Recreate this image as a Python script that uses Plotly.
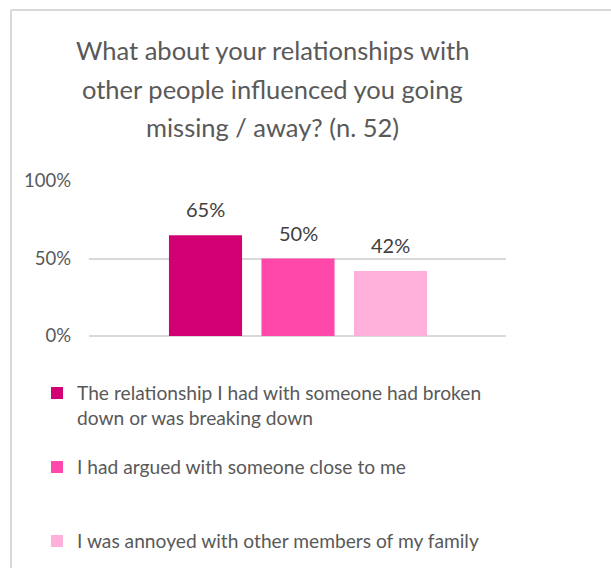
import plotly.graph_objects as go

# Survey responses (n = 52)
title_lines = [
    "What about your relationships with",
    "other people influenced you going",
    "missing / away? (n. 52)",
]
reasons = [
    "The relationship I had with someone had broken<br>down or was breaking down",
    "I had argued with someone close to me<br> ",
    "I was annoyed with other members of my family",
]
shares = [0.65, 0.50, 0.42]
colors = ["#D20072", "#FF48AA", "#FFB0DA"]
y_ticks = [0, 0.5, 1.0]
y_tick_labels = ["0%", "50%", "100%"]

W, H = 611, 568
L, R, T, B = 89, 506, 181, 336  # plot area in pixels
FONT = "Lato"
GREY = "#595959"


def px_x(px):
    return (px - L) / (R - L)


def px_y(py):
    return (B - py) / (B - T)


fig = go.Figure()
legend_names = ["legend", "legend2", "legend3"]
for i, (name, val, col) in enumerate(zip(reasons, shares, colors)):
    fig.add_trace(go.Bar(
        x=[i], y=[val], name=name, width=0.79,
        marker=dict(color=col, line=dict(width=0)),
        legend=legend_names[i],
        hoverinfo="skip",
    ))
    fig.add_annotation(
        x=i, y=val, xref="x", yref="y",
        text=f"{val:.0%}", showarrow=False,
        yanchor="bottom", yshift=12,
        font=dict(family=FONT, size=20, color="#404040"),
    )

# chart title, centred above the plot
for k, line in enumerate(title_lines):
    fig.add_annotation(
        x=px_x(272), y=px_y(50 + 38.5 * k),
        xref="paper", yref="paper", text=line, showarrow=False,
        xanchor="center", yanchor="middle",
        font=dict(family=FONT, size=25.5, color=GREY),
    )

# chart frame (top and left edges)
fig.add_shape(type="line", xref="paper", yref="paper",
              x0=px_x(11), x1=px_x(W + 5), y0=px_y(10), y1=px_y(10),
              line=dict(color="#D9D9D9", width=2))
fig.add_shape(type="line", xref="paper", yref="paper",
              x0=px_x(11), x1=px_x(11), y0=px_y(10), y1=px_y(H + 5),
              line=dict(color="#D9D9D9", width=2))

legend_common = dict(
    font=dict(family=FONT, size=19.2, color=GREY),
    bgcolor="rgba(0,0,0,0)", borderwidth=0, valign="top",
    xanchor="left", yanchor="top", itemwidth=30,
    itemclick=False, itemdoubleclick=False,
)
legend_tops = [374, 448, 522]
legend_left = 37
layout_legends = {}
for name, top in zip(legend_names, legend_tops):
    layout_legends[name] = dict(legend_common, x=px_x(legend_left), y=px_y(top))

unit = 92.5  # pixels per bar slot
fig.update_layout(
    width=W, height=H,
    margin=dict(l=L, r=W - R, t=T, b=H - B, autoexpand=False),
    paper_bgcolor="white", plot_bgcolor="white",
    showlegend=True,
    barmode="overlay",
    xaxis=dict(
        range=[1 - (298 - L) / unit, 1 + (R - 298) / unit],
        showgrid=False, zeroline=False, showticklabels=False, showline=False,
        fixedrange=True,
    ),
    yaxis=dict(
        range=[0, 1], tickvals=y_ticks, ticktext=y_tick_labels,
        showgrid=True, gridcolor="#D9D9D9", gridwidth=1.5,
        zeroline=True, zerolinecolor="#D9D9D9", zerolinewidth=1.5,
        showline=False, ticks="", ticklen=0, ticklabelstandoff=17,
        tickfont=dict(family=FONT, size=18.5, color=GREY),
        fixedrange=True,
    ),
    **layout_legends,
)

fig.write_html("out.html", config={"displayModeBar": False})
